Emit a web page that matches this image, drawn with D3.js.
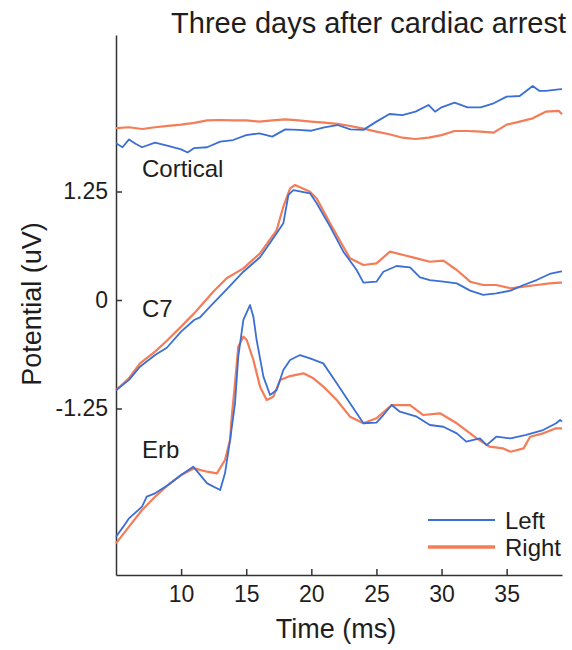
<!DOCTYPE html>
<html>
<head>
<meta charset="utf-8">
<script src="https://cdn.jsdelivr.net/npm/d3@7"></script>
<style>
body{margin:0;background:#fff}
text{font-family:"Liberation Sans",Arial,sans-serif;fill:#1e1e1e}
.axis path,.axis line{stroke:#333;stroke-width:1.5}
</style>
</head>
<body>
<svg id="chart" width="572" height="650"></svg>
<script>
// traces, [time ms, potential uV]
let corticalLeft = [[5,1.805],[5.5,1.76],[6,1.85],[6.5,1.8],[7,1.76],[8,1.813],[9,1.775],[10,1.736],[10.5,1.7],[11,1.75],[12,1.76],[13,1.824],[14,1.843],[15,1.9],[16,1.92],[17,1.882],[18,1.966],[19,1.96],[20,1.95],[21,1.99],[22,2.016],[23,1.966],[24,1.96],[25,2.055],[26,2.143],[27,2.13],[28,2.17],[29,2.247],[29.5,2.17],[30,2.22],[31,2.274],[32,2.22],[33,2.22],[34,2.266],[35,2.343],[36,2.35],[37,2.466],[37.5,2.41],[38,2.41],[39,2.427],[39.25,2.43]]
let corticalRight = [[5,1.98],[6,1.99],[7,1.97],[8,1.99],[9,2.005],[10,2.02],[11,2.04],[12,2.07],[13,2.074],[14,2.07],[15,2.07],[16,2.055],[17,2.07],[18,2.08],[19,2.07],[20,2.055],[21,2.043],[22,2.03],[23,2.005],[24,1.974],[25,1.94],[26,1.91],[27,1.87],[28,1.855],[29,1.87],[30,1.9],[31,1.947],[32,1.947],[33,1.94],[34,1.928],[35,2.02],[36,2.055],[37,2.093],[38,2.17],[39,2.18],[39.25,2.14]]

let c7Left = [[5,-1.04],[6,-0.92],[6.84,-0.768],[8,-0.634],[8.9,-0.55],[10,-0.365],[11,-0.23],[11.45,-0.2],[12.22,-0.077],[13.5,0.123],[14.78,0.326],[16.06,0.492],[17.34,0.768],[17.85,0.883],[18.24,1.21],[18.62,1.267],[19.9,1.229],[20.41,1.114],[21.44,0.845],[22.46,0.557],[23.48,0.346],[24,0.2],[25,0.211],[25.53,0.326],[26.55,0.392],[27.58,0.376],[28.35,0.261],[29.1,0.23],[30.14,0.211],[31.17,0.192],[32.2,0.108],[33.2,0.058],[34.2,0.077],[35.3,0.108],[36.3,0.173],[37.3,0.23],[38.3,0.3],[39.1,0.326],[39.25,0.33]]
let c7Right = [[5,-1.04],[6,-0.9],[6.84,-0.73],[8,-0.595],[8.9,-0.47],[10,-0.307],[11,-0.154],[11.45,-0.077],[12.5,0.1],[13.5,0.25],[14.78,0.365],[16.06,0.538],[17.34,0.806],[17.85,1.075],[18.37,1.286],[18.75,1.325],[19.9,1.248],[20.41,1.17],[21.44,0.883],[22.46,0.614],[22.97,0.48],[24,0.403],[25,0.422],[26.04,0.557],[27.07,0.518],[28.1,0.48],[29.1,0.441],[30.14,0.453],[31.17,0.346],[32.2,0.211],[33.2,0.173],[34.2,0.173],[35.3,0.134],[36.3,0.154],[37.3,0.173],[38.3,0.192],[39.1,0.2],[39.25,0.2]]

let erbLeft = [[5,-2.727],[5.56,-2.611],[6,-2.515],[7,-2.381],[7.36,-2.266],[8,-2.227],[9,-2.131],[10,-2.016],[10.93,-1.92],[12,-2.112],[13,-2.189],[13.37,-1.997],[13.76,-1.613],[14.14,-1.19],[14.39,-0.653],[14.78,-0.23],[15.29,-0.058],[15.55,-0.192],[15.8,-0.461],[16.32,-0.883],[16.83,-1.094],[17.34,-1.037],[17.85,-0.806],[18.37,-0.691],[19.13,-0.634],[19.9,-0.672],[20.92,-0.73],[21.95,-0.96],[22.97,-1.19],[24,-1.42],[25,-1.413],[25.53,-1.325],[26.17,-1.21],[26.8,-1.287],[28.1,-1.344],[29.1,-1.44],[30.14,-1.46],[31.17,-1.536],[31.9,-1.632],[32.95,-1.594],[33.46,-1.671],[34.2,-1.575],[35.3,-1.594],[36.5,-1.555],[37.8,-1.498],[38.8,-1.42],[39.1,-1.382],[39.25,-1.4]]
let erbRight = [[5,-2.803],[6,-2.611],[7,-2.419],[8,-2.266],[9,-2.131],[10,-2.016],[11,-1.939],[12,-1.978],[12.75,-1.997],[13.37,-1.843],[13.76,-1.613],[13.89,-1.344],[14.14,-0.96],[14.39,-0.538],[14.78,-0.422],[15.04,-0.461],[15.55,-0.691],[16.06,-0.998],[16.57,-1.152],[17.08,-1.114],[17.6,-0.922],[18.37,-0.876],[19.39,-0.845],[20.16,-0.902],[20.92,-0.998],[21.95,-1.152],[22.97,-1.344],[24,-1.42],[25,-1.363],[26.17,-1.21],[27.58,-1.21],[28.6,-1.325],[29.88,-1.305],[31.17,-1.42],[32.2,-1.536],[32.7,-1.594],[33.7,-1.69],[34.7,-1.709],[35.3,-1.748],[36.3,-1.709],[36.8,-1.575],[37.8,-1.536],[38.8,-1.478],[39.25,-1.478]]

let xTicks = [10, 15, 20, 25, 30, 35]
let yTicks = [-1.25, 0, 1.25]
let traceLabels = ["Cortical", "C7", "Erb"]
let labelValues = [1.42, -0.2, -1.82]
let legendNames = ["Left", "Right"]
let legendColors = ["#3b6fd4", "#f47c56"]

let svg = d3.select("#chart")

let xScale = d3.scaleLinear().domain([5, 39.25]).range([116, 562])
let yScale = d3.scaleLinear().domain([-3.168, 3.053]).range([575, 35])

// axes
let x_axis = d3.axisBottom(xScale).tickValues(xTicks).tickSizeInner(-6).tickSizeOuter(0).tickPadding(11)
let y_axis = d3.axisLeft(yScale).tickValues(yTicks).tickSizeInner(-6).tickSizeOuter(0).tickPadding(8)
    .tickFormat(d => String(d))

svg.append("g").attr("class", "axis")
    .attr("transform", "translate(0,575)")
    .call(x_axis)
    .selectAll("text").style("font-size", "23px")

svg.append("g").attr("class", "axis")
    .attr("transform", "translate(116,0)")
    .call(y_axis)
    .selectAll("text").style("font-size", "23px")

// traces
let line = d3.line().x(d => xScale(d[0])).y(d => yScale(d[1]))
let traces = [
    {data: corticalRight, c: legendColors[1], w: 2.2},
    {data: c7Right, c: legendColors[1], w: 2.2},
    {data: erbRight, c: legendColors[1], w: 2.2},
    {data: corticalLeft, c: legendColors[0], w: 1.8},
    {data: c7Left, c: legendColors[0], w: 1.8},
    {data: erbLeft, c: legendColors[0], w: 1.8}
]
svg.selectAll(".trace")
    .data(traces)
    .enter()
    .append("path")
    .attr("class", "trace")
    .attr("fill", "none")
    .attr("stroke", d => d.c)
    .attr("stroke-width", d => d.w)
    .attr("stroke-linejoin", "round")
    .attr("d", d => line(d.data))

// trace labels
traceLabels.forEach(function (d, i) {
    svg.append("text")
        .attr("x", xScale(7))
        .attr("y", yScale(labelValues[i]))
        .style("font-size", "24px")
        .text(d)
})

// title
svg.append("text")
    .attr("x", 566).attr("y", 33)
    .attr("text-anchor", "end")
    .style("font-size", "29px")
    .text("Three days after cardiac arrest")

// axis labels
svg.append("text")
    .attr("x", 336).attr("y", 638)
    .attr("text-anchor", "middle")
    .style("font-size", "27px")
    .text("Time (ms)")

svg.append("g")
    .attr("transform", "translate(41,304) rotate(-90)")
    .append("text")
    .attr("text-anchor", "middle")
    .style("font-size", "27px")
    .text("Potential (uV)")

// legend
legendNames.forEach(function (d, i) {
    let lgnd = svg.append("g").attr("transform", `translate(428,${520 + i * 27})`)
    lgnd.append("line").attr("x1", 0).attr("x2", 67)
        .attr("stroke", legendColors[i])
        .attr("stroke-width", i == 0 ? 2 : 3.5)
    lgnd.append("text").attr("x", 77).attr("dy", "0.36em")
        .style("font-size", "24px")
        .text(d)
})
</script>
</body>
</html>
